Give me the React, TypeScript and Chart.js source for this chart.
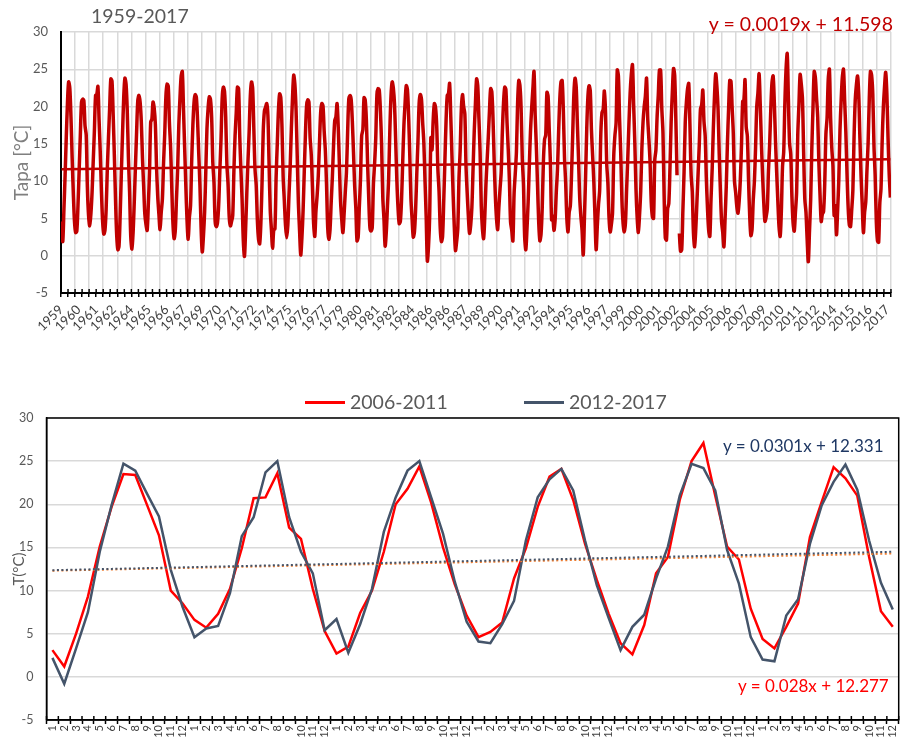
import React, { useEffect, useRef } from "react";
import { Chart, registerables } from "chart.js";

Chart.register(...registerables);
Chart.defaults.font.family = "Lato, 'Open Sans', sans-serif";

// ---------------- DATA ----------------
// Monthly mean temperature (°C), rows = years, columns = Jan..Dec
const T_1959_1968: (number | null)[][] = [
  [4.6, 1.9, 6.2, 10.8, 15.9, 20.4, 23.3, 22.5, 18.6, 13.2, 8.4, 4.6],
  [3.1, 3.3, 6.8, 11.5, 16.2, 20.6, 21.0, 20.8, 17.4, 16.2, 9.2, 5.4],
  [4.0, 5.6, 8.5, 12.7, 16.8, 21.5, 21.6, 22.7, 18.1, 13.8, 8.6, 4.6],
  [2.9, 3.4, 6.2, 11.6, 15.8, 19.8, 23.7, 23.4, 18.9, 13.5, 7.6, 2.8],
  [0.8, 1.3, 5.6, 11.2, 16.4, 21.2, 23.8, 23.0, 19.5, 13.2, 8.6, 2.6],
  [0.9, 3.1, 7.2, 12.0, 16.6, 20.8, 21.5, 20.6, 18.0, 13.1, 9.4, 5.6],
  [4.2, 3.4, 6.9, 11.2, 17.9, 18.3, 20.6, 19.8, 17.6, 11.9, 8.0, 5.6],
  [3.5, 5.8, 7.6, 12.5, 16.4, 21.4, 23.0, 22.7, 17.8, 14.5, 9.1, 4.3],
  [2.3, 3.4, 7.6, 11.6, 17.5, 21.2, 24.1, 24.7, 19.6, 14.4, 9.3, 4.8],
  [2.2, 5.1, 6.7, 12.8, 17.5, 20.6, 21.6, 21.2, 18.1, 13.7, 9.5, 3.8],
];
const T_1969_1978: (number | null)[][] = [
  [0.5, 2.6, 5.8, 11.2, 17.0, 19.8, 21.3, 21.0, 18.6, 12.5, 9.8, 4.6],
  [3.9, 4.4, 6.8, 11.4, 15.6, 21.1, 22.6, 22.0, 18.6, 12.3, 9.6, 5.2],
  [4.0, 4.6, 5.4, 11.4, 16.1, 19.2, 22.6, 22.4, 15.9, 11.4, 7.4, 2.1],
  [-0.1, 3.6, 8.4, 12.7, 16.6, 21.4, 23.3, 22.4, 17.0, 11.6, 9.5, 4.8],
  [2.2, 1.6, 4.4, 9.8, 16.6, 19.4, 19.9, 20.4, 18.8, 12.3, 6.1, 3.5],
  [1.0, 3.5, 3.6, 10.5, 15.0, 19.5, 21.7, 21.2, 17.3, 10.6, 7.4, 4.1],
  [2.4, 4.1, 8.2, 12.0, 17.0, 21.2, 24.2, 23.0, 19.6, 13.4, 7.1, 3.4],
  [0.1, 2.4, 6.0, 11.2, 16.2, 20.1, 20.9, 20.6, 15.8, 13.5, 9.2, 4.3],
  [2.6, 6.0, 8.1, 10.8, 15.1, 19.2, 20.4, 20.1, 16.7, 14.1, 9.6, 3.8],
  [2.2, 3.5, 7.2, 10.6, 14.8, 18.1, 18.6, 20.4, 17.2, 12.1, 7.2, 4.8],
];
const T_1979_1988: (number | null)[][] = [
  [3.1, 5.6, 8.5, 11.2, 16.5, 21.0, 21.5, 21.0, 18.1, 13.9, 9.4, 6.4],
  [2.0, 2.5, 6.6, 10.4, 16.1, 16.9, 21.2, 20.9, 18.2, 12.6, 7.8, 3.8],
  [3.3, 3.8, 9.5, 12.3, 15.8, 21.6, 22.4, 22.2, 19.3, 14.8, 7.8, 4.9],
  [1.3, 3.2, 6.7, 10.4, 16.7, 21.4, 23.3, 22.5, 20.3, 15.4, 10.1, 6.4],
  [4.3, 4.6, 7.5, 12.6, 17.4, 20.4, 22.8, 22.3, 18.9, 13.6, 7.7, 4.9],
  [2.5, 3.2, 6.2, 11.0, 15.3, 20.4, 21.6, 21.0, 17.9, 15.2, 10.1, 5.3],
  [-0.7, 1.2, 5.4, 15.8, 14.2, 18.2, 20.4, 19.9, 17.4, 11.6, 8.6, 3.7],
  [1.9, 2.6, 7.4, 12.8, 18.2, 21.5, 21.7, 23.1, 18.6, 13.4, 8.2, 3.9],
  [0.7, 1.9, 3.7, 10.4, 14.1, 19.6, 21.6, 20.0, 19.0, 12.0, 8.4, 5.3],
  [3.0, 4.1, 6.5, 11.6, 16.6, 20.3, 23.7, 22.8, 18.4, 13.9, 6.7, 3.6],
];
const T_1989_1998: (number | null)[][] = [
  [2.3, 5.2, 9.6, 12.8, 15.9, 19.4, 22.4, 22.0, 18.5, 12.8, 8.1, 5.0],
  [3.5, 6.4, 8.9, 11.2, 16.6, 20.5, 22.6, 22.3, 17.8, 14.3, 10.1, 4.5],
  [3.4, 2.0, 8.3, 11.0, 13.9, 20.4, 23.5, 22.8, 19.7, 13.0, 9.6, 2.6],
  [0.8, 3.6, 7.2, 12.1, 16.7, 19.8, 22.3, 24.7, 18.8, 14.6, 9.5, 4.5],
  [2.0, 2.9, 6.4, 12.6, 15.6, 16.2, 21.9, 21.4, 16.8, 12.4, 4.8, 5.3],
  [3.4, 4.8, 8.5, 11.5, 16.6, 21.0, 23.3, 23.5, 19.6, 13.2, 9.8, 5.0],
  [3.2, 5.8, 6.7, 10.9, 16.2, 21.6, 23.8, 22.6, 17.6, 12.9, 7.7, 5.2],
  [3.4, 0.1, 5.0, 10.6, 17.1, 21.4, 22.8, 22.1, 16.8, 13.4, 10.0, 5.3],
  [0.8, 4.0, 6.8, 8.8, 16.4, 19.2, 19.6, 22.1, 19.2, 12.4, 9.8, 5.1],
  [3.2, 4.2, 5.8, 13.3, 16.1, 17.8, 24.9, 24.1, 18.3, 13.6, 7.4, 4.3],
];
const T_1999_2005: (number | null)[][] = [
  [3.2, 4.4, 8.9, 13.1, 17.8, 21.8, 24.3, 25.6, 20.2, 15.1, 8.9, 5.1],
  [3.1, 5.4, 8.6, 14.3, 17.9, 20.0, 21.4, 23.8, 18.4, 15.6, 12.5, 7.2],
  [5.2, 5.0, 12.8, 14.2, 18.6, 21.5, 24.9, 24.9, 19.8, 16.5, 8.0, 2.4],
  [2.1, 6.3, 7.0, 11.9, 18.0, 21.9, 25.1, 24.2, 18.2, 10.8, null, 3.0],
  [0.6, 0.8, 6.1, 11.2, 17.8, 20.6, 22.4, 23.1, 17.6, 10.9, 8.6, 3.1],
  [1.2, 3.6, 7.3, 11.1, 15.0, 19.7, 20.2, 22.2, 18.0, 16.1, 10.4, 6.3],
  [3.4, 2.6, 7.6, 11.7, 17.2, 21.5, 24.4, 22.7, 19.6, 13.6, 8.7, 4.6],
];
// Lower chart series (also continue the upper series)
const T_2006_2011 = [
  3.1, 1.2, 5.0, 9.3, 15.1, 19.7, 23.5, 23.4, 19.9, 16.4, 10.0, 8.5,
  6.6, 5.7, 7.3, 10.2, 14.9, 20.7, 20.8, 23.6, 17.3, 16.0, 10.2, 5.3,
  2.7, 3.5, 7.4, 10.0, 14.5, 20.0, 21.8, 24.4, 20.2, 15.0, 10.7, 7.1,
  4.6, 5.2, 6.3, 11.4, 14.9, 19.7, 23.2, 24.1, 20.5, 15.4, 11.2, 7.3,
  3.9, 2.6, 6.0, 12.0, 13.9, 20.5, 25.0, 27.1, 21.0, 15.1, 13.6, 7.9,
  4.4, 3.3, 5.8, 8.5, 16.2, 20.3, 24.3, 23.0, 21.0, 13.9, 7.6, 5.8,
];
const T_2012_2017 = [
  2.2, -0.8, 3.3, 7.5, 14.5, 19.9, 24.7, 23.9, 21.2, 18.6, 12.4, 8.1,
  4.6, 5.6, 5.9, 9.7, 16.3, 18.5, 23.7, 25.0, 18.5, 14.5, 12.0, 5.4,
  6.7, 2.8, 6.1, 10.2, 16.8, 20.8, 23.9, 25.0, 20.8, 16.6, 11.0, 6.4,
  4.1, 3.9, 6.1, 8.8, 15.8, 20.8, 22.9, 24.1, 21.6, 15.8, 10.6, 6.8,
  3.1, 5.8, 7.2, 11.4, 15.1, 21.0, 24.7, 24.2, 21.6, 14.7, 10.8, 4.6,
  2.0, 1.8, 7.1, 9.0, 15.4, 19.9, 22.6, 24.6, 21.7, 15.8, 10.9, 7.8,
];

const TOP_TICK_LABELS = [
  "1959", "1960", "1961", "1962", "1964", "1965", "1966", "1967", "1969", "1970", "1971", "1972",
  "1974", "1975", "1976", "1977", "1979", "1980", "1981", "1982", "1984", "1986", "1986", "1987",
  "1989", "1990", "1991", "1992", "1994", "1995", "1996", "1997", "1999", "2000", "2001", "2002",
  "2004", "2005", "2006", "2007", "2009", "2010", "2011", "2012", "2014", "2015", "2016", "2017",
];
const MONTH_LABELS = ["1", "2", "3", "4", "5", "6", "7", "8", "9", "10", "11", "12"];
const BOTTOM_YEARS = 6;

const TOP_TREND = { slope: 0.0019, intercept: 11.598 };
const RED_TREND = { slope: 0.028, intercept: 12.277 };
const GREY_TREND = { slope: 0.0301, intercept: 12.331 };

const LABEL_EVERY = 15;
const GRID_EVERY = 12;
const TICK_EVERY = 6;

// ---------------- DERIVED ----------------
const TOP_SERIES: (number | null)[] = [
  ...T_1959_1968.flat(),
  ...T_1969_1978.flat(),
  ...T_1979_1988.flat(),
  ...T_1989_1998.flat(),
  ...T_1999_2005.flat(),
  ...T_2006_2011,
  ...T_2012_2017,
];

const TRANSPARENT = "rgba(0,0,0,0)";

export default function App() {
  const topRef = useRef<HTMLCanvasElement>(null);
  const botRef = useRef<HTMLCanvasElement>(null);

  useEffect(() => {
    const N = TOP_SERIES.length;
    const topPoints = TOP_SERIES.map((v, i) => ({ x: i + 0.5, y: v }));
    const topTrend = [1, N].map((k) => ({ x: k - 0.5, y: TOP_TREND.intercept + TOP_TREND.slope * k }));

    const innerTicksTop = {
      id: "innerTicksTop",
      afterDraw(chart: any) {
        const { ctx, chartArea } = chart;
        const sx = chart.scales.x;
        ctx.save();
        ctx.strokeStyle = "#000";
        ctx.lineWidth = 1.5;
        for (let v = 0; v <= N; v += TICK_EVERY) {
          const x = sx.getPixelForValue(v);
          ctx.beginPath();
          ctx.moveTo(x, chartArea.bottom - 4);
          ctx.lineTo(x, chartArea.bottom);
          ctx.stroke();
        }
        ctx.restore();
      },
    };

    const top = new Chart(topRef.current!, {
      type: "line",
      data: {
        datasets: [
          {
            data: topPoints as any,
            borderColor: "#C00000",
            borderWidth: 3.5,
            pointRadius: 0,
            tension: 0.3,
            spanGaps: false,
          },
          {
            data: topTrend as any,
            borderColor: "#C00000",
            borderWidth: 2.5,
            pointRadius: 0,
          },
        ],
      },
      options: {
        responsive: false,
        animation: false,
        events: [],
        layout: { padding: { top: 32, right: 10, left: 0, bottom: 0 } },
        plugins: { legend: { display: false }, tooltip: { enabled: false } },
        scales: {
          x: {
            type: "linear",
            min: 0,
            max: N,
            afterBuildTicks: (scale: any) => {
              const t = [];
              for (let v = 0; v <= N; v += 3) t.push({ value: v });
              scale.ticks = t;
            },
            ticks: {
              autoSkip: false,
              minRotation: 45,
              maxRotation: 45,
              color: "#404040",
              font: { size: 13 },
              padding: 5,
              callback: (value: any) => {
                const v = Number(value);
                if (v % LABEL_EVERY !== 0) return "";
                const k = v / LABEL_EVERY;
                return k < TOP_TICK_LABELS.length ? TOP_TICK_LABELS[k] : "";
              },
            },
            grid: {
              color: (c: any) => (c.tick && c.tick.value % GRID_EVERY === 0 ? "#d9d9d9" : TRANSPARENT),
              lineWidth: 1.5,
              drawTicks: true,
              tickLength: 4,
              tickColor: (c: any) => (c.tick && c.tick.value % TICK_EVERY === 0 ? "#000" : TRANSPARENT),
              tickWidth: 1.5,
            },
            border: { color: "#000", width: 2 },
            afterFit: (s: any) => {
              s.height = 67;
            },
          },
          y: {
            min: -5,
            max: 30,
            ticks: { stepSize: 5, color: "#595959", font: { size: 13 }, padding: 13 },
            grid: { color: "#d9d9d9", lineWidth: 1.5, drawTicks: false },
            border: { color: "#000", width: 2 },
            title: {
              display: true,
              text: "Tapa [°C]",
              color: "#7f7f7f",
              font: { size: 19 },
              padding: { top: 10, bottom: 0 },
            },
            afterFit: (s: any) => {
              s.width = 61;
            },
          },
        },
      },
      plugins: [innerTicksTop],
    });

    // ---- bottom chart ----
    const M = T_2006_2011.length;
    const labels = Array.from({ length: BOTTOM_YEARS * MONTH_LABELS.length }, (_, i) => MONTH_LABELS[i % 12]);
    const redTrend = labels.map((_, i) => RED_TREND.intercept + RED_TREND.slope * (i + 1));
    const greyTrend = labels.map((_, i) => GREY_TREND.intercept + GREY_TREND.slope * (i + 1));

    const frameAndTicks = {
      id: "frameAndTicks",
      afterDraw(chart: any) {
        const { ctx, chartArea } = chart;
        ctx.save();
        ctx.strokeStyle = "#000";
        ctx.lineWidth = 1.5;
        ctx.strokeRect(chartArea.left, chartArea.top, chartArea.right - chartArea.left, chartArea.bottom - chartArea.top);
        const w = (chartArea.right - chartArea.left) / M;
        for (let i = 0; i <= M; i++) {
          const x = chartArea.left + i * w;
          ctx.beginPath();
          ctx.moveTo(x, chartArea.bottom - 4);
          ctx.lineTo(x, chartArea.bottom);
          ctx.stroke();
        }
        ctx.restore();
      },
    };

    const bot = new Chart(botRef.current!, {
      type: "line",
      data: {
        labels,
        datasets: [
          { label: "2006-2011", data: T_2006_2011, borderColor: "#FF0000", borderWidth: 2.5, pointRadius: 0, order: 4 },
          { label: "2012-2017", data: T_2012_2017, borderColor: "#44546A", borderWidth: 2.5, pointRadius: 0, order: 3 },
          {
            label: "trend 2006-2011",
            data: redTrend,
            borderColor: "#ED7D31",
            borderWidth: 2,
            borderDash: [2, 2.5],
            pointRadius: 0,
            order: 2,
          },
          {
            label: "trend 2012-2017",
            data: greyTrend,
            borderColor: "#44546A",
            borderWidth: 2,
            borderDash: [2, 2.5],
            pointRadius: 0,
            order: 1,
          },
        ],
      },
      options: {
        responsive: false,
        animation: false,
        events: [],
        layout: { padding: { top: 58, right: 2, left: 0, bottom: 0 } },
        plugins: { legend: { display: false }, tooltip: { enabled: false } },
        scales: {
          x: {
            type: "category",
            offset: true,
            ticks: {
              autoSkip: false,
              minRotation: 90,
              maxRotation: 90,
              color: "#404040",
              font: { size: 11 },
              padding: 1,
            },
            grid: { offset: true, drawOnChartArea: false, drawTicks: true, tickLength: 4, tickColor: "#000", tickWidth: 1.5 },
            border: { color: "#000", width: 1.5 },
            afterFit: (s: any) => {
              s.height = 22;
            },
          },
          y: {
            min: -5,
            max: 30,
            ticks: { stepSize: 5, color: "#595959", font: { size: 12.5 }, padding: 13 },
            grid: { color: "#d9d9d9", lineWidth: 1.5, drawTicks: false },
            border: { color: "#000", width: 1.5 },
            title: {
              display: true,
              text: "T(°C)",
              color: "#595959",
              font: { size: 15 },
              padding: { top: 10, bottom: 0 },
            },
            afterFit: (s: any) => {
              s.width = 46.5;
            },
          },
        },
      },
      plugins: [frameAndTicks],
    });

    return () => {
      top.destroy();
      bot.destroy();
    };
  }, []);

  const txt = (extra: React.CSSProperties): React.CSSProperties => ({
    position: "absolute",
    whiteSpace: "nowrap",
    lineHeight: 1,
    fontFamily: "Lato, 'Open Sans', sans-serif",
    ...extra,
  });

  return (
    <div style={{ position: "absolute", left: 0, top: 0, width: 907, height: 742, background: "#fff", overflow: "hidden" }}>
      <canvas ref={topRef} width={907} height={360} style={{ position: "absolute", left: 0, top: 0, width: 907, height: 360 }} />
      <canvas ref={botRef} width={907} height={382} style={{ position: "absolute", left: 0, top: 360, width: 907, height: 382 }} />

      <div style={txt({ left: 91, top: 6, fontSize: 19.5, color: "#595959" })}>1959-2017</div>
      <div style={txt({ right: 14, top: 14, fontSize: 19.5, color: "#C00000" })}>y = 0.0019x + 11.598</div>

      <div style={{ position: "absolute", left: 305, top: 401, width: 40, height: 2.5, background: "#FF0000" }} />
      <div style={txt({ left: 350, top: 392, fontSize: 19.5, color: "#595959" })}>2006-2011</div>
      <div style={{ position: "absolute", left: 524, top: 401, width: 40, height: 2.5, background: "#44546A" }} />
      <div style={txt({ left: 569, top: 392, fontSize: 19.5, color: "#595959" })}>2012-2017</div>

      <div style={txt({ left: 723, top: 437, fontSize: 17, color: "#1F3864" })}>y = 0.0301x + 12.331</div>
      <div style={txt({ left: 738, top: 677, fontSize: 17, color: "#FF0000" })}>y = 0.028x + 12.277</div>
    </div>
  );
}
